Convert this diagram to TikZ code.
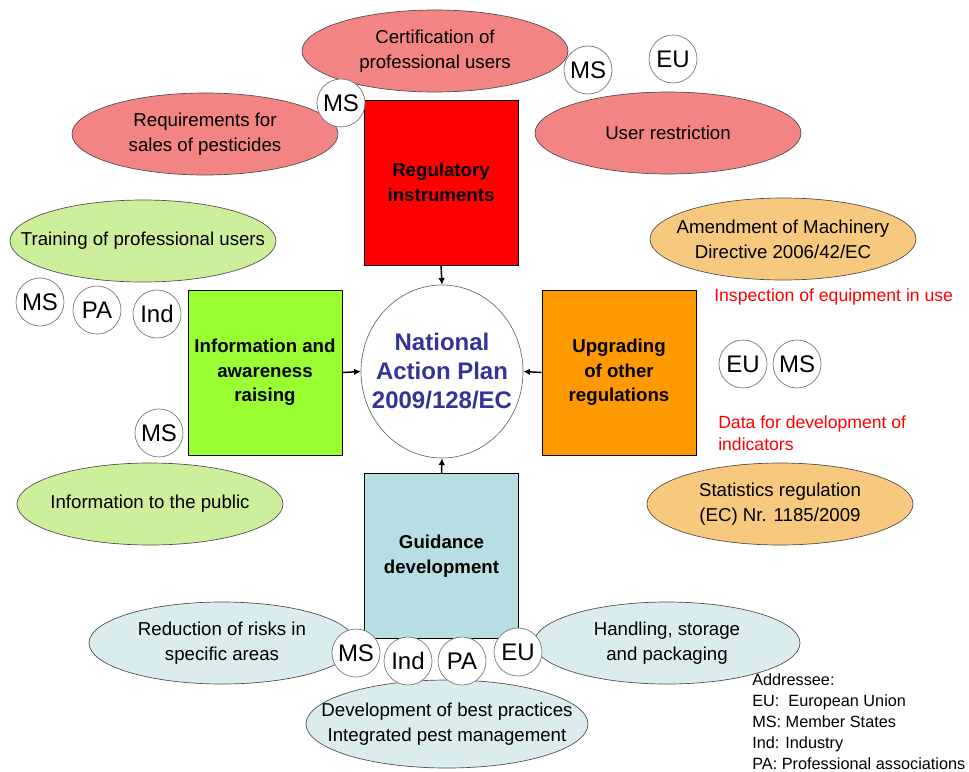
\documentclass[tikz,border=0pt]{standalone}
\usepackage{fontspec}
\setmainfont{Liberation Sans}
\usetikzlibrary{shapes.geometric,arrows.meta}
\definecolor{redbox}{HTML}{FF0000}
\definecolor{redell}{HTML}{F28484}
\definecolor{greenbox}{HTML}{99FF33}
\definecolor{greenell}{HTML}{CDEF9C}
\definecolor{orangebox}{HTML}{FF9900}
\definecolor{orangeell}{HTML}{F7C97E}
\definecolor{bluebox}{HTML}{B7DEE2}
\definecolor{blueell}{HTML}{DAECEE}
\definecolor{napblue}{HTML}{333399}
\definecolor{redtxt}{HTML}{FF0000}
\begin{document}
\begin{tikzpicture}[x=0.75pt,y=-0.75pt,
  ellbase/.style={ellipse, draw=black!70, line width=0.5pt, inner sep=0pt,
    minimum width=199.5pt, minimum height=61.5pt},
  redel/.style={ellbase, fill=redell},
  greenel/.style={ellbase, fill=greenell},
  orangeel/.style={ellbase, fill=orangeell},
  blueel/.style={ellbase, fill=blueell},
  elltxt/.style={align=center, font=\fontsize{14}{18.5}\selectfont, inner sep=0pt},
  boxbase/.style={rectangle, draw=black, line width=0.6pt, minimum width=115.5pt,
    minimum height=123.75pt, align=center, font=\fontsize{14}{18.5}\selectfont\bfseries},
  addr/.style={circle, draw=black!55, line width=0.5pt, fill=white, inner sep=0pt,
    minimum size=36pt, font=\fontsize{18}{20}\selectfont},
  conn/.style={line width=1.1pt, -{Latex[length=5pt,width=5pt]}},
  redlabel/.style={text=redtxt, align=left, font=\fontsize{13.2}{16.5}\selectfont, inner sep=0pt}
]
\useasboundingbox (0,0) rectangle (969,771);

% ellipses
\node[redel] (cert) at (435,51) {};
\node[elltxt] at (cert) {Certification of\\professional users};
\node[redel] (req) at (205,134) {};
\node[elltxt] at (req) {Requirements for\\sales of pesticides};
\node[redel] (userr) at (668,133) {};
\node[elltxt] at (userr) {User restriction};

\node[greenel] (train) at (143,241) {};
\node[elltxt] at (train) {Training of professional users};
\node[greenel] (pub) at (150,504) {};
\node[elltxt] at (pub) {Information to the public};

\node[orangeel] (mach) at (783,239) {};
\node[elltxt] at (mach) {Amendment of Machinery\\Directive 2006/42/EC};
\node[orangeel] (stat) at (780,504) {};
\node[elltxt] at (stat) {Statistics regulation\\(EC) Nr. 1185/2009};

\node[blueel] (risk) at (222,643) {};
\node[elltxt] at (risk) {Reduction of risks in\\specific areas};
\node[blueel] (hand) at (667,643) {};
\node[elltxt] at (hand) {Handling, storage\\and packaging};
\node[blueel, minimum width=211.5pt, minimum height=66pt] (best) at (447,724) {};
\node[elltxt] at (best) {Development of best practices\\Integrated pest management};

% boxes
\node[boxbase, fill=redbox] (reg) at (441,182.5) {Regulatory\\instruments};
\node[boxbase, fill=greenbox] (info) at (265,372.5) {Information and\\awareness\\raising};
\node[boxbase, fill=orangebox] (upg) at (619,372.5) {Upgrading\\of other\\regulations};
\node[boxbase, fill=bluebox] (guid) at (441.5,556) {Guidance\\development};

% centre
\node[ellipse, draw=black!60, line width=0.5pt, fill=white, inner sep=0pt,
  minimum width=121.5pt, minimum height=129.75pt] (nap) at (442,371.5) {};
\node[align=center, text=napblue, font=\fontsize{18}{21.75}\selectfont\bfseries, inner sep=0pt]
  at (nap) {National\\Action Plan\\2009/128/EC};

% connectors
\draw[conn] (reg.south) -- (nap.north);
\draw[conn] (info.east) -- (nap.west);
\draw[conn] (upg.west) -- (nap.east);
\draw[conn] (guid.north) -- (nap.south);

% addressee circles
\node[addr] (ms1) at (341,103) {MS};
\node[addr] (ms2) at (588,70) {MS};
\node[addr] (eu1) at (673,59) {EU};
\node[addr] (ms3) at (40,302) {MS};
\node[addr] (pa1) at (97,310) {PA};
\node[addr] (ind1) at (157,314) {Ind};
\node[addr] (ms4) at (159,433) {MS};
\node[addr] (eu2) at (743,364) {EU};
\node[addr] (ms5) at (797,364) {MS};
\node[addr] (ms6) at (356,653) {MS};
\node[addr] (ind2) at (408,661) {Ind};
\node[addr] (pa2) at (462,661) {PA};
\node[addr] (eu3) at (518,652) {EU};

% red labels
\node[redlabel, anchor=base west] (insp) at (714,301) {Inspection of equipment in use};
\node[redlabel, anchor=base west] (data) at (718,450) {Data for development of\\indicators};

% legend
\node[anchor=base west, align=left, inner sep=0pt, font=\fontsize{12.2}{15.75}\selectfont] (legend) at (752,769)
  {Addressee:\\EU:\ \ European Union\\MS: Member States\\Ind: Industry\\PA: Professional associations};
\end{tikzpicture}
\end{document}
